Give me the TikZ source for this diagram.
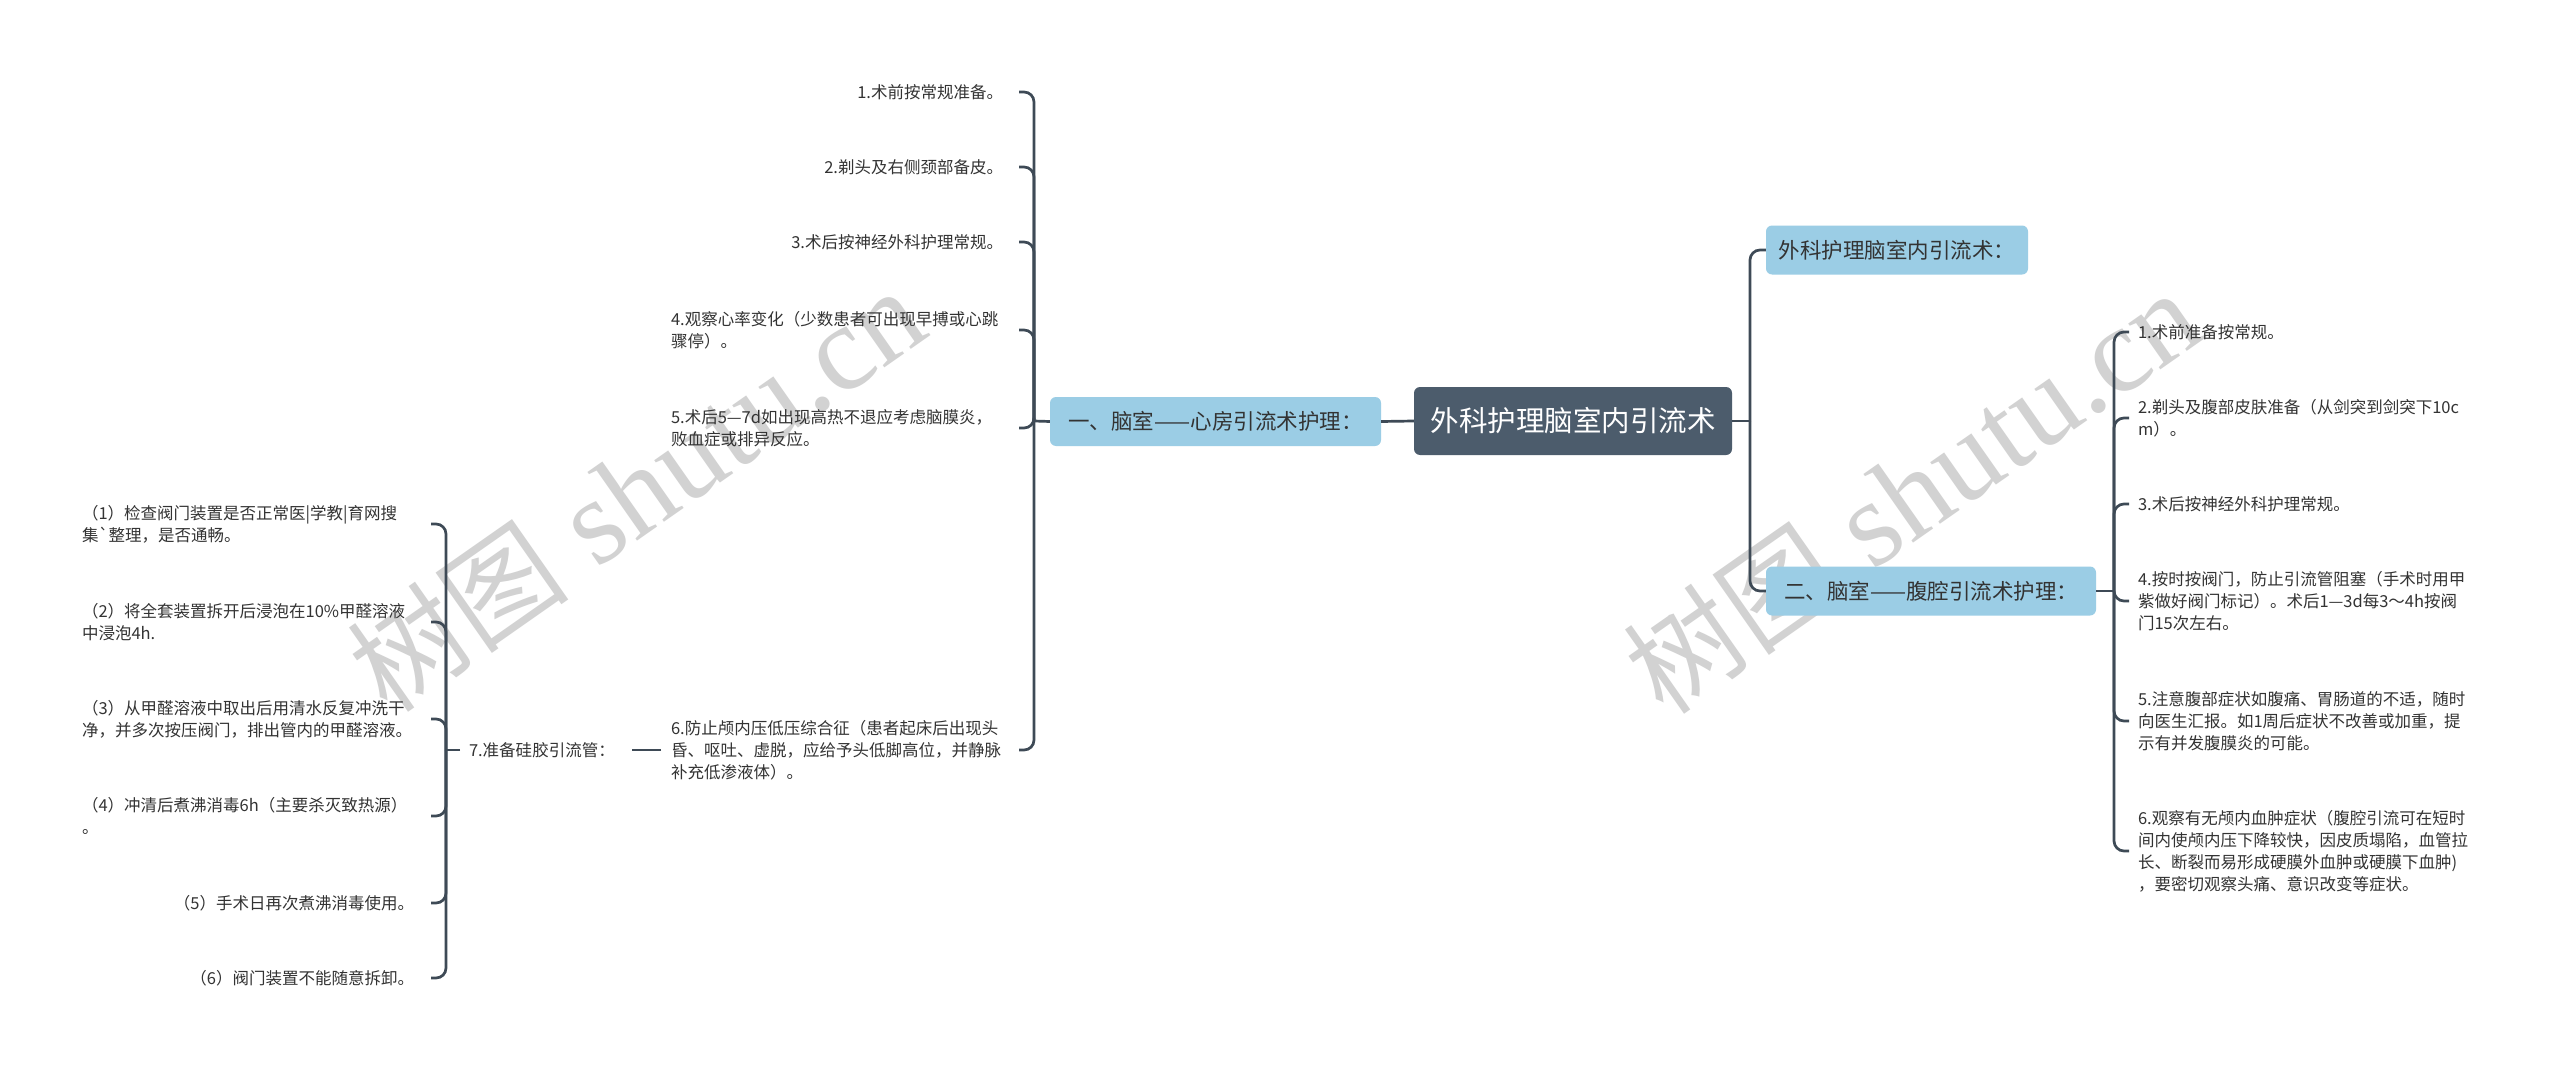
\documentclass[tikz,border=0pt]{standalone}
\usepackage{fontspec}
\newfontfamily\zh{Noto Sans CJK SC}
\newfontfamily\wmserif{Liberation Serif}
\definecolor{lineC}{HTML}{3E4A56}
\definecolor{darkbox}{HTML}{4C5C6C}
\definecolor{bluebox}{HTML}{9BCDE5}
\definecolor{txt}{HTML}{333333}
\definecolor{wmgray}{HTML}{D2D2D2}
\begin{document}
\begin{tikzpicture}[x=1pt,y=-1pt,
  leaf/.style={inner sep=0pt, outer sep=0pt, text=txt, font=\zh\fontsize{16.5}{22}\selectfont, align=left},
  conn/.style={draw=lineC, line width=2.7pt},
  rc/.style={rounded corners=10pt},
  mainbox/.style={fill=darkbox, rounded corners=6pt, text=white, font=\zh\fontsize{28.5}{34}\selectfont, minimum width=318pt, minimum height=68pt, inner sep=0pt},
  subbox/.style={fill=bluebox, rounded corners=6pt, text=txt, font=\zh\fontsize{21.5}{26}\selectfont, minimum height=49pt, inner sep=0pt},
  wmark/.style={rotate=35, text=wmgray, inner sep=0pt}
]
\useasboundingbox (0,0) rectangle (2560,1070);
\fill[white] (0,0) rectangle (2560,1070);

% watermarks
\node[wmark] (wm1) at (636,490) {{\zh\fontsize{112}{112}\selectfont 树图}{\wmserif\fontsize{122}{122}\selectfont{} shutu.cn}};
\node[wmark] (wm2) at (1912,492) {{\zh\fontsize{112}{112}\selectfont 树图}{\wmserif\fontsize{122}{122}\selectfont{} shutu.cn}};

% main nodes
\node[mainbox] (C) at (1573,421) {外科护理脑室内引流术};
\node[subbox, minimum width=331pt] (L1) at (1215.5,421.5) {一、脑室——心房引流术护理：};
\node[subbox, minimum width=262pt] (R1) at (1897,250) {外科护理脑室内引流术：};
\node[subbox, minimum width=330pt] (R2) at (1931,591) {二、脑室——腹腔引流术护理：};

% junction coordinates
\coordinate (jL) at (1034,421);
\coordinate (tL) at (1019,0);
\coordinate (jR) at (1750,421);
\coordinate (jR2) at (2114,591);
\coordinate (tR) at (2129,0);
\coordinate (j7) at (446,750);
\coordinate (tC) at (431,0);

% left branch leaves
\node[leaf, anchor=east] (a1) at (1003,92) {1.术前按常规准备。};
\node[leaf, anchor=east] (a2) at (1003,167) {2.剃头及右侧颈部备皮。};
\node[leaf, anchor=east] (a3) at (1003,242) {3.术后按神经外科护理常规。};
\node[leaf, anchor=west] (a4) at (671,330) {4.观察心率变化（少数患者可出现早搏或心跳\\骤停）。};
\node[leaf, anchor=west] (a5) at (671,428) {5.术后5—7d如出现高热不退应考虑脑膜炎，\\败血症或排异反应。};
\node[leaf, anchor=west] (a6) at (671,750) {6.防止颅内压低压综合征（患者起床后出现头\\昏、呕吐、虚脱，应给予头低脚高位，并静脉\\补充低渗液体）。};
\node[leaf, anchor=west] (a7) at (469,750) {7.准备硅胶引流管：};

\node[leaf, anchor=west] (c1) at (82,524) {（1）检查阀门装置是否正常医|学教|育网搜\\集\symbol{96}整理，是否通畅。};
\node[leaf, anchor=west] (c2) at (82,622) {（2）将全套装置拆开后浸泡在10\%甲醛溶液\\中浸泡4h.};
\node[leaf, anchor=west] (c3) at (82,719) {（3）从甲醛溶液中取出后用清水反复冲洗干\\净，并多次按压阀门，排出管内的甲醛溶液。};
\node[leaf, anchor=west] (c4) at (82,816) {（4）冲清后煮沸消毒6h（主要杀灭致热源）\\。};
\node[leaf, anchor=east] (c5) at (414,903) {（5）手术日再次煮沸消毒使用。};
\node[leaf, anchor=east] (c6) at (414,978) {（6）阀门装置不能随意拆卸。};

% right branch leaves
\node[leaf, anchor=west] (b1) at (2138,332) {1.术前准备按常规。};
\node[leaf, anchor=west] (b2) at (2138,418) {2.剃头及腹部皮肤准备（从剑突到剑突下10c\\m）。};
\node[leaf, anchor=west] (b3) at (2138,504) {3.术后按神经外科护理常规。};
\node[leaf, anchor=west] (b4) at (2138,601) {4.按时按阀门，防止引流管阻塞（手术时用甲\\紫做好阀门标记）。术后1—3d每3～4h按阀\\门15次左右。};
\node[leaf, anchor=west] (b5) at (2138,721) {5.注意腹部症状如腹痛、胃肠道的不适，随时\\向医生汇报。如1周后症状不改善或加重，提\\示有并发腹膜炎的可能。};
\node[leaf, anchor=west] (b6) at (2138,851) {6.观察有无颅内血肿症状（腹腔引流可在短时\\间内使颅内压下降较快，因皮质塌陷，血管拉\\长、断裂而易形成硬膜外血肿或硬膜下血肿)\\，要密切观察头痛、意识改变等症状。};

% connectors
\draw[conn] (C.west) -- (L1.east);
\draw[conn] (L1.west) -- (jL);
\foreach \n in {a1,a2,a3,a4,a5,a6} \draw[conn,rc] (jL) |- (\n -| tL);
\draw[conn] ([xshift=-10pt]a6.west) -- ([xshift=17pt]a7.east);
\draw[conn] ([xshift=-9pt]a7.west) -- (j7);
\foreach \n in {c1,c2,c3,c4,c5,c6} \draw[conn,rc] (j7) |- (\n -| tC);

\draw[conn] (C.east) -- (jR);
\draw[conn,rc] (jR) |- (R1.west);
\draw[conn,rc] (jR) |- (R2.west);
\draw[conn] (R2.east) -- (jR2);
\foreach \n in {b1,b2,b3,b4,b5,b6} \draw[conn,rc] (jR2) |- (\n -| tR);
\end{tikzpicture}
\end{document}
